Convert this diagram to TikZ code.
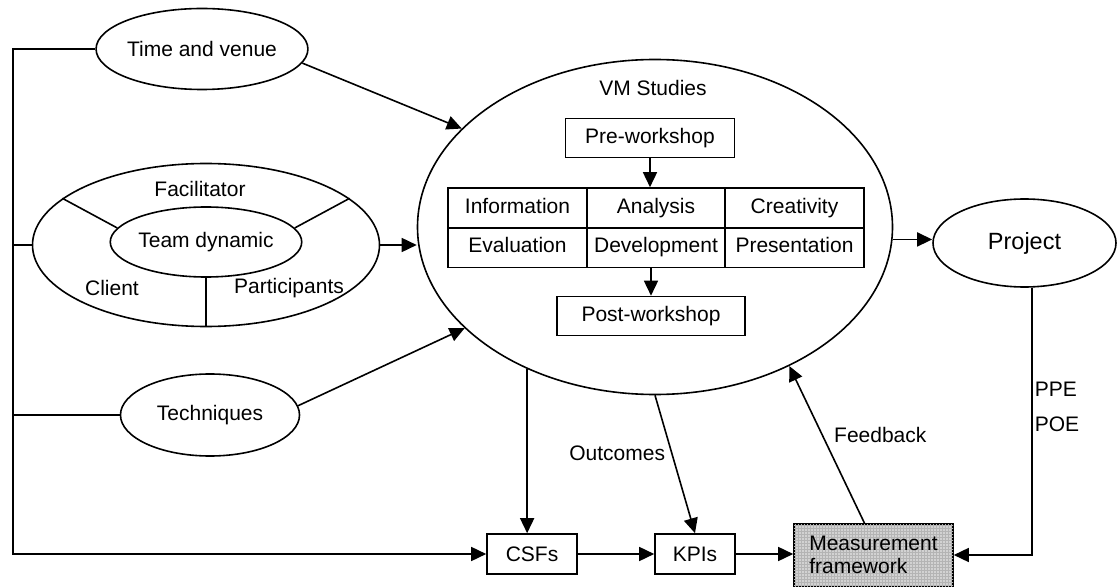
\documentclass[tikz,border=0pt]{standalone}
\usepackage{fontspec}
\setmainfont{Liberation Sans}
\usepackage{tikz}
\usetikzlibrary{arrows.meta, shapes.geometric, patterns}
\definecolor{vmgray}{RGB}{210, 210, 210}
\definecolor{vmgrid}{RGB}{180, 180, 180}
\tikzset{
    vmfont/.style={font=\fontsize{21}{23.5}\selectfont},
    ellnode/.style={ellipse, draw, line width=1.6pt, inner sep=0pt, vmfont},
    boxnode/.style={rectangle, draw, line width=1.6pt, inner sep=0pt, vmfont},
    cellnode/.style={boxnode, minimum width=139pt, minimum height=40pt, text height=15pt, text depth=4pt},
    measnode/.style={boxnode, fill=vmgray, postaction={pattern=grid, pattern color=vmgrid}, align=left, minimum width=159pt, minimum height=62pt},
    txtnode/.style={inner sep=2pt, vmfont},
    ln/.style={line width=1.6pt},
    arr/.style={line width=1.6pt, -{Triangle[length=15pt, width=14pt]}}
}
\begin{document}
\begin{tikzpicture}[x=1pt, y=-1pt]
\useasboundingbox (0,0) rectangle (1117,588);

% inputs on the left
\node[ellnode, minimum width=177pt, minimum height=81pt] (time) at (202,49) {Time and venue};
\node[ellnode, minimum width=347pt, minimum height=163pt] (teamout) at (206,245) {};
\node[ellnode, minimum width=189pt, minimum height=70pt] (teamin) at (206,242) {Team dynamic};
\node[txtnode] (facil) at (200,189) {Facilitator};
\node[txtnode] (client) at (112,288) {Client};
\node[txtnode] (partic) at (289,288) {Participants};
\node[ellnode, minimum width=179pt, minimum height=82pt] (tech) at (210,415) {Techniques};

% VM studies
\node[ellnode, minimum width=475pt, minimum height=335pt] (vm) at (655,227) {};
\node[txtnode] (vmtitle) at (653,88) {VM Studies};
\node[boxnode, minimum width=169pt, minimum height=39pt] (pre) at (650,138) {Pre-workshop};
\node[cellnode] (info) at (517.5,208) {Information};
\node[cellnode] (anal) at (656,208) {Analysis};
\node[cellnode] (creat) at (794.5,208) {Creativity};
\node[cellnode] (eval) at (517.5,247.5) {Evaluation};
\node[cellnode] (devel) at (656,247.5) {Development};
\node[cellnode] (pres) at (794.5,247.5) {Presentation};
\node[boxnode, minimum width=188pt, minimum height=39pt] (post) at (651,316) {Post-workshop};

% project and measurement
\node[ellnode, minimum width=183pt, minimum height=88pt, font=\fontsize{23.5}{26}\selectfont] (proj) at (1024.5,243) {Project};
\node[boxnode, minimum width=90pt, minimum height=40pt] (csf) at (532,554) {CSFs};
\node[boxnode, minimum width=80pt, minimum height=40pt] (kpi) at (695,554) {KPIs};
\node[measnode] (meas) at (873.5,555) {Measurement\\framework};

% team dynamic spokes
\draw[ln] (teamout.162) -- (teamin.171);
\draw[ln] (teamout.18) -- (teamin.9);
\draw[ln] (teamin.south) -- (teamout.south);

% left bus
\coordinate (lbus) at (13,554);
\draw[arr] (time.west) -| (lbus) -- (csf.west);
\draw[ln] (teamout.west) -- (teamout.west -| lbus);
\draw[ln] (tech.west) -- (tech.west -| lbus);

% into VM studies
\draw[arr] (time.-8) -- (vm.153);
\draw[arr] (teamout.east) -- (teamout.east -| vm.west);
\draw[arr] (tech.6) -- (vm.208);
\draw[arr] (pre.south) -- (pre.south |- anal.north);
\draw[arr] (post.north |- devel.south) -- (post.north);

% out of VM studies
\draw[arr] (vm.-3) -- (vm.-3 -| proj.west);
\draw[arr] (vm.228) -- (vm.228 |- csf.north);
\draw[arr] (vm.south) -- node[txtnode, left=4pt, pos=0.42] {Outcomes} (kpi.north);
\draw[arr] (csf) -- (kpi);
\draw[arr] (kpi.east) -- (kpi.east -| meas.west);
\draw[arr] ([xshift=-9pt]meas.north) -- node[txtnode, right=9pt, pos=0.56] {Feedback} (vm.-46);
\draw[arr] ([xshift=7.5pt]proj.south) |- node[txtnode, right, pos=0.19] {PPE} node[txtnode, right, pos=0.255] {POE} (meas.east);
\end{tikzpicture}
\end{document}
